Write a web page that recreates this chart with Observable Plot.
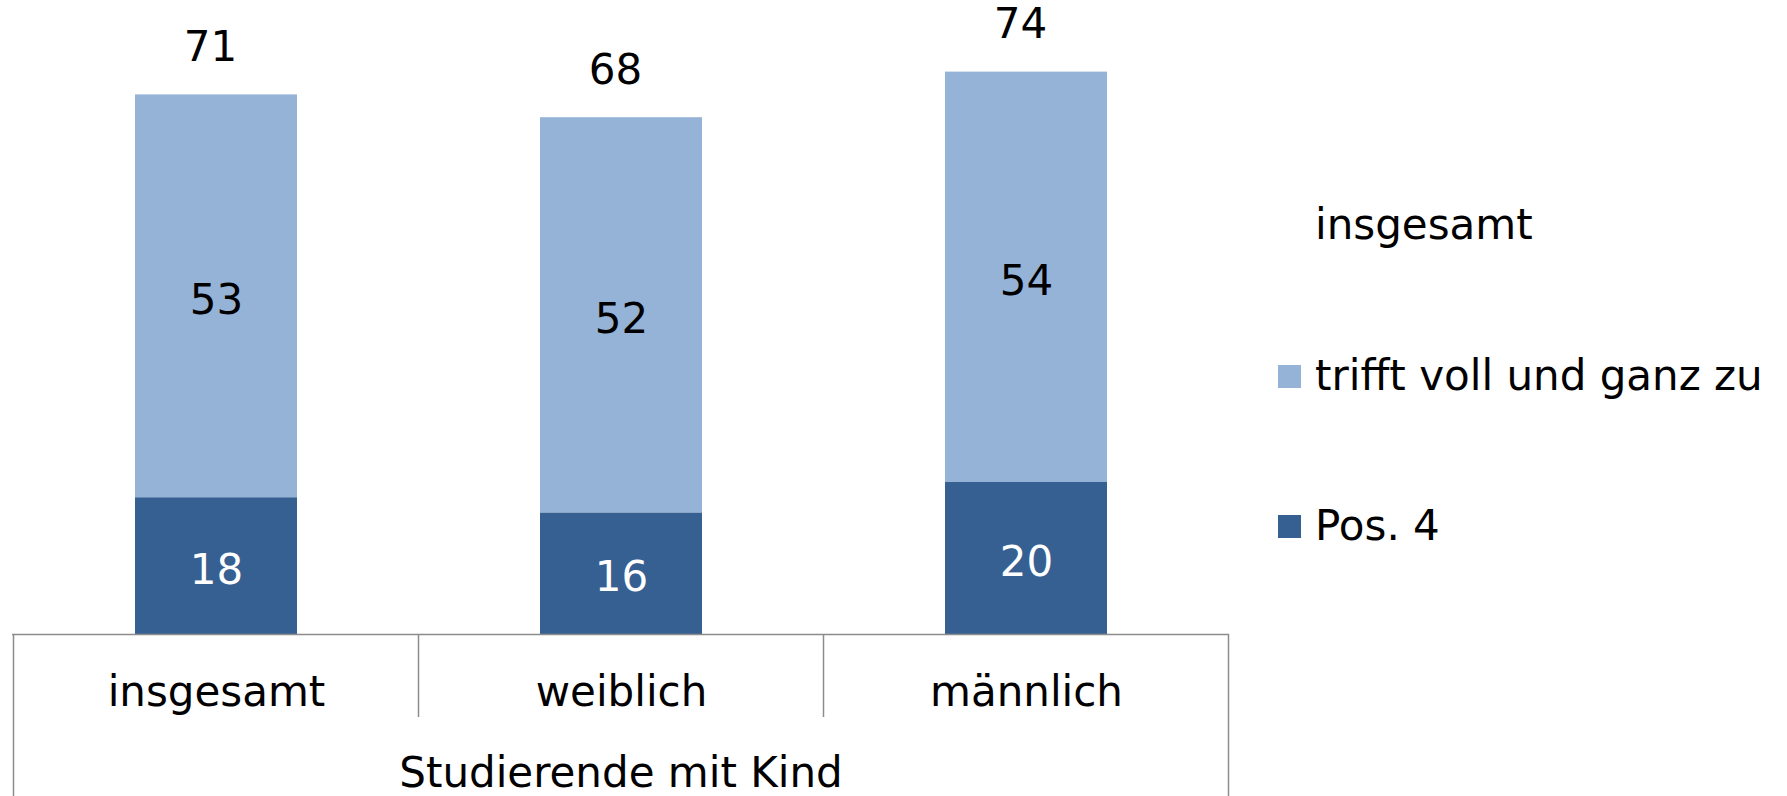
<!DOCTYPE html>
<html><head><meta charset="utf-8">
<script src="https://cdn.jsdelivr.net/npm/d3@7"></script>
<script src="https://cdn.jsdelivr.net/npm/@observablehq/plot@0.6"></script>
<style>
body{margin:0;background:#fff;}
#wrap{position:relative;width:1787px;height:796px;font-family:"DejaVu Sans",Verdana,sans-serif;}
#legend{position:absolute;left:1278px;top:0;}
.row{position:absolute;left:0;display:flex;align-items:center;height:42px;font-size:42px;line-height:42px;white-space:nowrap;color:#000;}
.sw{width:23px;height:23px;margin-right:14px;flex:none;}
</style></head><body>
<div id="wrap"></div>
<script>
const categories = ["insgesamt", "weiblich", "männlich"];
const series = ["Pos. 4", "trifft voll und ganz zu"];
const pos4 = [18, 16, 20];
const voll = [53, 52, 54];
const totals = [71, 68, 74];
const groupLabel = "Studierende mit Kind";
const legendTitle = "insgesamt";
const colors = ["#366092", "#95B3D7"];
const labelColors = ["#ffffff", "#000000"];
const lineColor = "#8c8c8c";

const values = [pos4, voll];
const data = [];
series.forEach((s, si) => categories.forEach((c, ci) => data.push({cat: c, series: s, value: values[si][ci]})));
const totalData = categories.map((c, i) => ({cat: c, total: totals[i]}));

const frameLines = (index, scales, vals, dims) => {
  const x = scales.x;
  const yTop = dims.height - dims.marginBottom;
  const g = d3.create("svg:g").attr("stroke", lineColor).attr("stroke-width", 1.5);
  const half = x.step() / 2, off = x.bandwidth() / 2;
  categories.forEach((c, i) => {
    const bx = x(c) + off - half;
    g.append("line").attr("x1", bx).attr("x2", bx).attr("y1", yTop).attr("y2", i === 0 ? dims.height : yTop + 83);
  });
  const last = categories[categories.length - 1];
  const rx = x(last) + off + half;
  g.append("line").attr("x1", rx).attr("x2", rx).attr("y1", yTop).attr("y2", dims.height);
  return g.node();
};

const chart = Plot.plot({
  width: 1787, height: 796,
  marginLeft: 12, marginRight: 558, marginTop: 26, marginBottom: 162,
  style: {fontFamily: "DejaVu Sans, Verdana, sans-serif", fontSize: "42px", background: "white"},
  x: {domain: categories, paddingInner: 0.6, paddingOuter: 0.3},
  y: {domain: [0, 80], axis: null},
  color: {domain: series, range: colors},
  marks: [
    Plot.barY(data, {x: "cat", y: "value", fill: "series"}),
    Plot.text(data, Plot.stackY({x: "cat", y: "value", z: "series", text: d => d.series === series[0] ? String(d.value) : "", fill: labelColors[0], dy: 4})),
    Plot.text(data, Plot.stackY({x: "cat", y: "value", z: "series", text: d => d.series === series[1] ? String(d.value) : "", fill: labelColors[1], dy: 4})),
    Plot.text(totalData, {x: "cat", y: "total", text: d => String(d.total), lineAnchor: "bottom", dy: -34, dx: -6, fill: "#000"}),
    Plot.ruleY([0], {stroke: lineColor, strokeWidth: 1.5}),
    Plot.axisX({tickSize: 0, tickPadding: 42, label: null, fontSize: 42}),
    Plot.text([groupLabel], {text: d => d, frameAnchor: "bottom", lineAnchor: "bottom", dy: 152, fill: "#000"}),
    frameLines
  ]
});

const wrap = document.getElementById("wrap");
wrap.appendChild(chart);

const legend = document.createElement("div");
legend.id = "legend";
const rows = [{label: legendTitle, color: null}, ...series.slice().reverse().map((s) => ({label: s, color: colors[series.indexOf(s)]}))];
const centers = [224.5, 376, 526];
rows.forEach((r, i) => {
  const row = document.createElement("div");
  row.className = "row";
  row.style.top = (centers[i] - 21) + "px";
  const sw = document.createElement("div");
  sw.className = "sw";
  sw.style.background = r.color || "transparent";
  const t = document.createElement("span");
  t.textContent = r.label;
  row.appendChild(sw);
  row.appendChild(t);
  legend.appendChild(row);
});
wrap.appendChild(legend);
</script>
</body></html>
